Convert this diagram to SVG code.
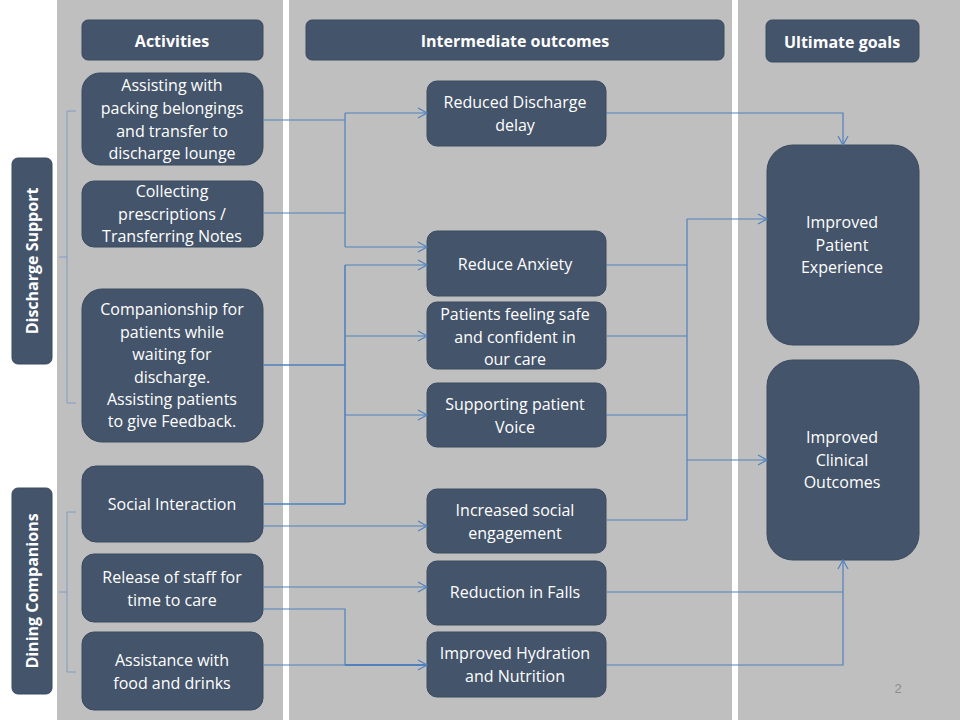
<svg xmlns="http://www.w3.org/2000/svg" width="960" height="720" viewBox="0 0 960 720">
<style>
.b{fill:#44546a;stroke:#3b4a5e;stroke-width:1}
.t{fill:#fff;font-family:"Open Sans","Liberation Sans",sans-serif;font-size:16px;text-anchor:middle}
.h{font-weight:bold}
.c{fill:none;stroke:#4f81bd;stroke-width:1.2}
.br{fill:none;stroke:#7f9cc4;stroke-width:1}
</style>
<defs><marker id="a" markerWidth="12" markerHeight="12" refX="10" refY="6" orient="auto" markerUnits="userSpaceOnUse"><path d="M1,1 L10,6 L1,11" fill="none" stroke="#4f81bd" stroke-width="1.2"/></marker></defs>
<rect width="960" height="720" fill="#fff"/>
<rect x="57" y="0" width="226" height="720" fill="#bfbfbf"/>
<rect x="289" y="0" width="443" height="720" fill="#bfbfbf"/>
<rect x="738" y="0" width="222" height="720" fill="#bfbfbf"/>
<g id="h1"><rect class="b" x="82" y="20" width="181" height="40" rx="6"/><text class="t h" x="172" y="47">Activities</text></g>
<g id="h2"><rect class="b" x="306" y="20" width="418" height="40" rx="6"/><text class="t h" x="515" y="47">Intermediate outcomes</text></g>
<g id="h3"><rect class="b" x="766" y="20" width="153" height="42" rx="6"/><text class="t h" x="842" y="48">Ultimate goals</text></g>
<g id="s1"><rect class="b" x="12" y="158" width="40" height="206" rx="6"/><text class="t h" transform="translate(38,261) rotate(-90)">Discharge Support</text></g>
<g id="s2"><rect class="b" x="12" y="488" width="40" height="206" rx="6"/><text class="t h" transform="translate(38,591) rotate(-90)">Dining Companions</text></g>
<path class="br" d="M76,111 H67 V403 H76 M67,257 H59 M76,512 H67 V672 H76 M67,592 H59"/>
<g id="a1"><rect class="b" x="82" y="73" width="181" height="92" rx="18"/><text class="t"><tspan x="172" y="91">Assisting with</tspan><tspan x="172" y="114">packing belongings</tspan><tspan x="172" y="137">and transfer to</tspan><tspan x="172" y="159">discharge lounge</tspan></text></g>
<g id="a2"><rect class="b" x="82" y="181" width="181" height="66" rx="12"/><text class="t"><tspan x="172" y="197">Collecting</tspan><tspan x="172" y="220">prescriptions /</tspan><tspan x="172" y="242">Transferring Notes</tspan></text></g>
<g id="a3"><rect class="b" x="82" y="289" width="181" height="153" rx="20"/><text class="t"><tspan x="172" y="315">Companionship for</tspan><tspan x="172" y="338">patients while</tspan><tspan x="172" y="360">waiting for</tspan><tspan x="172" y="383">discharge.</tspan><tspan x="172" y="405">Assisting patients</tspan><tspan x="172" y="427">to give Feedback.</tspan></text></g>
<g id="a4"><rect class="b" x="82" y="466" width="181" height="76" rx="14"/><text class="t" x="172" y="510">Social Interaction</text></g>
<g id="a5"><rect class="b" x="82" y="554" width="181" height="68" rx="12"/><text class="t"><tspan x="172" y="583">Release of staff for</tspan><tspan x="172" y="606">time to care</tspan></text></g>
<g id="a6"><rect class="b" x="82" y="632" width="181" height="78" rx="12"/><text class="t"><tspan x="172" y="666">Assistance with</tspan><tspan x="172" y="689">food and drinks</tspan></text></g>
<g id="i1"><rect class="b" x="427" y="81" width="179" height="65" rx="10"/><text class="t"><tspan x="515" y="108">Reduced Discharge</tspan><tspan x="515" y="131">delay</tspan></text></g>
<g id="i2"><rect class="b" x="427" y="231" width="179" height="65" rx="10"/><text class="t" x="515" y="270">Reduce Anxiety</text></g>
<g id="i3"><rect class="b" x="427" y="302" width="179" height="67" rx="10"/><text class="t"><tspan x="515" y="320">Patients feeling safe</tspan><tspan x="515" y="343">and confident in</tspan><tspan x="515" y="365">our care</tspan></text></g>
<g id="i4"><rect class="b" x="427" y="383" width="179" height="64" rx="10"/><text class="t"><tspan x="515" y="410">Supporting  patient</tspan><tspan x="515" y="433">Voice</tspan></text></g>
<g id="i5"><rect class="b" x="427" y="489" width="179" height="64" rx="10"/><text class="t"><tspan x="515" y="516">Increased social</tspan><tspan x="515" y="539">engagement</tspan></text></g>
<g id="i6"><rect class="b" x="427" y="561" width="179" height="64" rx="10"/><text class="t" x="515" y="598">Reduction in Falls</text></g>
<g id="i7"><rect class="b" x="427" y="632" width="179" height="65" rx="10"/><text class="t"><tspan x="515" y="659">Improved Hydration</tspan><tspan x="515" y="682">and Nutrition</tspan></text></g>
<g id="g1"><rect class="b" x="767" y="145" width="152" height="200" rx="26"/><text class="t"><tspan x="842" y="228">Improved</tspan><tspan x="842" y="251">Patient</tspan><tspan x="842" y="273">Experience</tspan></text></g>
<g id="g2"><rect class="b" x="767" y="360" width="152" height="200" rx="26"/><text class="t"><tspan x="842" y="443">Improved</tspan><tspan x="842" y="466">Clinical</tspan><tspan x="842" y="488">Outcomes</tspan></text></g>
<g id="connectors">
<path class="c" d="M263,120 H345 M263,213 H345 M345,113 V247"/>
<path class="c" d="M345,113 H427" marker-end="url(#a)"/>
<path class="c" d="M345,247 H427" marker-end="url(#a)"/>
<path class="c" d="M263,365 H345 M345,265 V504 M263,504 H345" style="stroke-width:1.6"/>
<path class="c" d="M345,265 H427" marker-end="url(#a)"/>
<path class="c" d="M345,336 H427" marker-end="url(#a)"/>
<path class="c" d="M345,415 H427" marker-end="url(#a)"/>
<path class="c" d="M263,526 H427" marker-end="url(#a)"/>
<path class="c" d="M263,587 H427" marker-end="url(#a)"/>
<path class="c" d="M263,609 H345 V665 M263,665 H345"/>
<path class="c" d="M345,665 H427" style="stroke-width:1.8" marker-end="url(#a)"/>
<path class="c" d="M606,113 H843 V145" marker-end="url(#a)"/>
<path class="c" d="M606,265 H687 M606,336 H687 M606,415 H687 M606,520 H687 M687,219 V520"/>
<path class="c" d="M687,219 H767" marker-end="url(#a)"/>
<path class="c" d="M687,460 H767" marker-end="url(#a)"/>
<path class="c" d="M606,592 H843 M606,665 H843 V560" marker-end="url(#a)"/>
</g>
<text x="898" y="693" font-family="Liberation Sans,sans-serif" font-size="13" fill="#8c8c8c" text-anchor="middle">2</text>
</svg>
